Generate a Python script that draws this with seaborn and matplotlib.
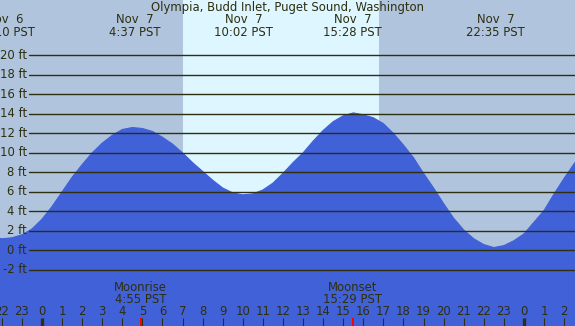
import numpy as np
import seaborn as sns
import matplotlib.pyplot as plt
from matplotlib.transforms import blended_transform_factory

# tide height (ft), hours from midnight Nov 7 (PST)
hours = [-2.5, -2.0, -1.5, -1.0, -0.5, 0.0, 0.5, 1.0, 1.5, 2.0, 2.5, 3.0, 3.5, 4.0, 4.5,
         5.0, 5.5, 6.0, 6.5, 7.0, 7.5, 8.0, 8.5, 9.0, 9.5, 10.0, 10.5, 11.0, 11.5,
         12.0, 12.5, 13.0, 13.5, 14.0, 14.5, 15.0, 15.5, 16.0, 16.5, 17.0, 17.5,
         18.0, 18.5, 19.0, 19.5, 20.0, 20.5, 21.0, 21.5, 22.0, 22.5, 23.0, 23.5,
         24.0, 24.5, 25.0, 25.5, 26.0, 26.5, 27.0]
heights = [1.4, 1.2, 1.3, 1.6, 2.2, 3.2, 4.5, 6.0, 7.5, 8.8, 10.0, 11.0, 11.8, 12.4, 12.6,
           12.5, 12.2, 11.6, 10.9, 10.0, 9.0, 8.1, 7.2, 6.4, 5.9, 5.7, 5.8, 6.2, 6.9,
           7.9, 9.0, 10.0, 11.2, 12.3, 13.2, 13.8, 14.1, 13.9, 13.6, 13.0, 12.0,
           10.8, 9.5, 7.9, 6.4, 4.8, 3.3, 2.1, 1.2, 0.6, 0.3, 0.5, 1.0,
           1.7, 2.9, 4.1, 5.8, 7.4, 8.9, 10.3]

# high / low tide labels along the top
event_hours = [-1.833, 4.617, 10.033, 15.467, 22.583]
event_days = ["Nov  6", "Nov  7", "Nov  7", "Nov  7", "Nov  7"]
event_times = ["22:10 PST", "4:37 PST", "10:02 PST", "15:28 PST", "22:35 PST"]

# daylight band
sunrise, sunset = 7.02, 16.78

# moon events
moon_hours = [4.917, 15.483]
moon_names = ["Moonrise", "Moonset"]
moon_times = ["4:55 PST", "15:29 PST"]

feet_levels = [-2, 0, 2, 4, 6, 8, 10, 12, 14, 16, 18, 20]
hour_ticks = list(range(-2, 27))

night = "#b0c4de"
day = "#ddf6ff"
water = "#4161d9"
ink = "#2e2e10"
fs = 8.4

sns.set_style("white")
plt.rcParams["font.family"] = ["DejaVu Sans"]

fig = plt.figure(figsize=(5.75, 3.26), dpi=100)
fig.patch.set_facecolor(night)
ax = fig.add_axes([0, 0, 1, 1])
ax.set_axis_off()
ax.set_xlim(-2.09, 26.54)
ax.set_ylim(-7.74, 25.67)

ax.axvspan(sunrise, sunset, color=day, lw=0, zorder=0)

sns.lineplot(x=hours, y=heights, color=water, lw=0.8, ax=ax, zorder=2)
ax.fill_between(hours, heights, -10, color=water, lw=0, zorder=2)

for lv in feet_levels:
    ax.axhline(lv, xmin=29 / 575, xmax=1, color=ink, lw=1.0, zorder=3)
    ax.text(27 / 575, lv, f"{lv} ft", transform=blended_transform_factory(ax.transAxes, ax.transData),
            ha="right", va="center", fontsize=fs, color=ink, zorder=4)

ax.text(0.5, 0.978, "Olympia, Budd Inlet, Puget Sound, Washington", transform=ax.transAxes,
        ha="center", va="center", fontsize=fs, color=ink)

tr = blended_transform_factory(ax.transData, ax.transAxes)
for h, d, t in zip(event_hours, event_days, event_times):
    ax.text(h, 0.941, d, transform=tr, ha="center", va="center", fontsize=fs, color=ink)
    ax.text(h, 0.901, t, transform=tr, ha="center", va="center", fontsize=fs, color=ink)

for h, n, t in zip(moon_hours, moon_names, moon_times):
    ax.text(h, 0.119, n, transform=tr, ha="center", va="center", fontsize=fs, color=ink, zorder=5)
    ax.text(h, 0.082, t, transform=tr, ha="center", va="center", fontsize=fs, color=ink, zorder=5)
    ax.plot([h, h], [0, 0.025], transform=tr, color="red", lw=1.4, zorder=6,
            solid_capstyle="butt")

for h in hour_ticks:
    ax.text(h, 0.044, str(h % 24), transform=tr, ha="center", va="center", fontsize=fs,
            color=ink, zorder=5)
    ax.plot([h, h], [0, 0.025], transform=tr, color=ink,
            lw=2.4 if h % 24 == 0 else 0.8, zorder=5, solid_capstyle="butt")

fig.savefig("out.png", dpi=100, facecolor=fig.get_facecolor())
